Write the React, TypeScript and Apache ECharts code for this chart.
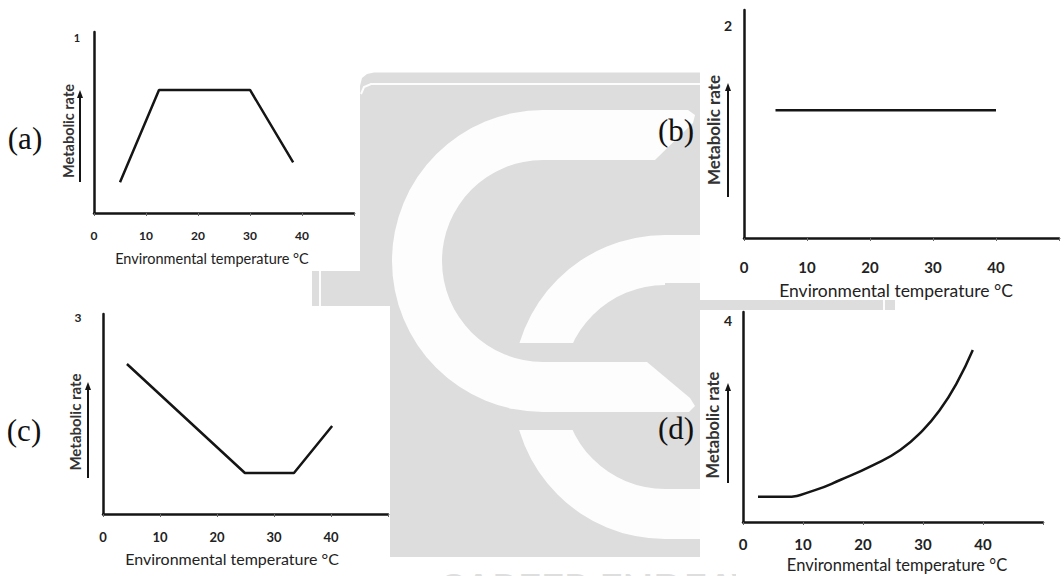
import React, { useEffect, useRef } from "react";
import * as echarts from "echarts";

// ---- data ----
const xTicks = [0, 10, 20, 30, 40];
const panelNumbers = ["1", "2", "3", "4"];
const panelLetters = ["(a)", "(b)", "(c)", "(d)"];
const yAxisLabel = "Metabolic rate";
const xAxisLabel = "Environmental temperature °C";
const watermarkText = "CAREER ENDEAVOUR";

const tempA = [5, 12.5, 30, 38.3];
const rateA = [1.7, 6.8, 6.8, 2.8];
const tempB = [5, 40];
const rateB = [5.6, 5.6];
const tempC = [4.2, 24.9, 33.5, 40.2];
const rateC = [7.5, 2.05, 2.05, 4.4];
const tempD = [2.5, 7, 12, 16.2, 21.7, 26.2, 30, 32.8, 35.6, 38.3];
const rateD = [1.2, 1.2, 1.52, 2.0, 2.71, 3.43, 4.38, 5.33, 6.6, 8.19];

const seriesTemps = [tempA, tempB, tempC, tempD];
const seriesRates = [rateA, rateB, rateC, rateD];
const smoothFlags = [false, false, false, true];

// ---- layout ----
const panels = [
  { left: 94, top: 32, width: 260, height: 181, tickFont: 12, nameFont: 14.5, labelMargin: 16, nameX: 212, nameY: 258, numX: 77, numY: 37, arrowX: 80, arrowTop: 90, arrowBottom: 182, ylabX: 68, ylabY: 131, ylabFont: 14.5, letterX: 25, letterY: 138 },
  { left: 744, top: 10, width: 326, height: 228, tickFont: 15, nameFont: 17.5, labelMargin: 21, nameX: 896, nameY: 290, numX: 728, numY: 25, arrowX: 728, arrowTop: 83, arrowBottom: 197, ylabX: 713, ylabY: 130, ylabFont: 17, letterX: 676, letterY: 130 },
  { left: 103, top: 314, width: 285, height: 200, tickFont: 13, nameFont: 16, labelMargin: 16, nameX: 232, nameY: 558, numX: 78, numY: 317, arrowX: 88, arrowTop: 382, arrowBottom: 478, ylabX: 75, ylabY: 422, ylabFont: 15, letterX: 24, letterY: 430 },
  { left: 743, top: 312, width: 300, height: 210, tickFont: 15, nameFont: 16.5, labelMargin: 14, nameX: 897, nameY: 565, numX: 728, numY: 320, arrowX: 728, arrowTop: 383, arrowBottom: 483, ylabX: 713, ylabY: 425, ylabFont: 16.5, letterX: 676, letterY: 428 },
];

const INK = "#151515";
const GRAY = "#dcdddc";
const WHITE = "#fdfdfd";
const SANS = "Lato, 'Open Sans', sans-serif";
const SERIF = "'Liberation Serif', 'DejaVu Serif', serif";

function buildWatermark(): any[] {
  const els: any[] = [];
  const Z = -10;
  // main gray body
  els.push({
    type: "polygon", z: Z,
    shape: { points: [[360, 86], [362, 78], [367, 74], [374, 72.5], [700, 72.5], [700, 557], [390, 557], [390, 306], [312, 306], [312, 271], [360, 271]] },
    style: { fill: GRAY },
  });
  // strip below panel b
  els.push({ type: "rect", z: Z, shape: { x: 700, y: 300, width: 195, height: 10 }, style: { fill: GRAY } });
  els.push({ type: "line", z: Z, shape: { x1: 884, y1: 300, x2: 884, y2: 310 }, style: { stroke: WHITE, lineWidth: 2 } });
  // thin white lines
  els.push({ type: "polyline", z: Z, shape: { points: [[361, 94], [364, 87], [371, 84], [700, 84]] }, style: { stroke: WHITE, lineWidth: 2, fill: null } });
  els.push({ type: "line", z: Z, shape: { x1: 320, y1: 271, x2: 320, y2: 306 }, style: { stroke: WHITE, lineWidth: 2 } });
  // small C
  els.push({ type: "sector", z: Z, shape: { cx: 665, cy: 387, r: 152, r0: 102, startAngle: Math.PI / 2, endAngle: (3 * Math.PI) / 2, clockwise: true }, style: { fill: WHITE } });
  els.push({ type: "rect", z: Z, shape: { x: 664, y: 235, width: 36, height: 48 }, style: { fill: WHITE } });
  els.push({ type: "rect", z: Z, shape: { x: 664, y: 489, width: 36, height: 50 }, style: { fill: WHITE } });
  // gap around big C's lower arm
  els.push({ type: "rect", z: Z, shape: { x: 505, y: 343, width: 195, height: 87 }, style: { fill: GRAY } });
  // big C
  els.push({ type: "sector", z: Z, shape: { cx: 543, cy: 261, r: 151, r0: 101, startAngle: Math.PI / 2, endAngle: (3 * Math.PI) / 2, clockwise: true }, style: { fill: WHITE } });
  els.push({ type: "polygon", z: Z, shape: { points: [[542, 110], [688, 110], [695, 115], [693, 123], [655, 160], [542, 160]] }, style: { fill: WHITE } });
  els.push({ type: "polygon", z: Z, shape: { points: [[542, 362], [647, 362], [690, 398], [695, 406], [689, 412], [542, 412]] }, style: { fill: WHITE } });
  // watermark words at the bottom edge
  els.push({ type: "text", z: Z, x: 438, y: 568, style: { text: watermarkText, font: `bold 40px ${SANS}`, fill: "#dedede", align: "left", verticalAlign: "top" } });
  els.push({ type: "rect", z: Z, shape: { x: 736, y: 557, width: 330, height: 20 }, style: { fill: "#ffffff" } });
  return els;
}

function buildPanelGraphics(): any[] {
  const els: any[] = [];
  panels.forEach((p, i) => {
    els.push({ type: "text", z: 20, x: p.letterX, y: p.letterY, style: { text: panelLetters[i], font: `31px ${SERIF}`, fill: "#111", align: "center", verticalAlign: "middle" } });
    els.push({ type: "text", z: 20, x: p.numX, y: p.numY, style: { text: panelNumbers[i], font: `bold ${p.tickFont - 1}px ${SANS}`, fill: "#222", align: "center", verticalAlign: "middle" } });
    els.push({ type: "text", z: 20, x: p.ylabX, y: p.ylabY, rotation: Math.PI / 2, style: { text: yAxisLabel, font: `bold ${p.ylabFont}px ${SANS}`, fill: "#333", align: "center", verticalAlign: "middle" } });
    els.push({ type: "line", z: 20, shape: { x1: p.arrowX, y1: p.arrowBottom, x2: p.arrowX, y2: p.arrowTop + 5 }, style: { stroke: INK, lineWidth: 2 } });
    els.push({ type: "polygon", z: 20, shape: { points: [[p.arrowX - 3, p.arrowTop + 8], [p.arrowX + 3, p.arrowTop + 8], [p.arrowX, p.arrowTop]] }, style: { fill: INK } });
    els.push({ type: "text", z: 20, x: p.nameX, y: p.nameY, style: { text: xAxisLabel, font: `${p.nameFont}px ${SANS}`, fill: "#222", align: "center", verticalAlign: "middle" } });
  });
  return els;
}

export default function App() {
  const ref = useRef<HTMLDivElement>(null);
  useEffect(() => {
    document.body.style.margin = "0";
    if (!ref.current) return;
    const chart = echarts.init(ref.current, undefined, { renderer: "svg" });
    const option: any = {
      animation: false,
      backgroundColor: "#ffffff",
      grid: panels.map((p) => ({ left: p.left, top: p.top, width: p.width, height: p.height, containLabel: false })),
      xAxis: panels.map((p, i) => ({
        type: "value", gridIndex: i, min: 0, max: 50, interval: 10,
        axisLine: { show: true, onZero: true, lineStyle: { color: INK, width: 2.5 } },
        axisTick: { show: true, length: 3, lineStyle: { color: "#666", width: 1 } },
        splitLine: { show: false },
        axisLabel: {
          show: true, margin: p.labelMargin, color: "#222", fontFamily: SANS, fontWeight: "bold", fontSize: p.tickFont,
          formatter: (v: number) => (xTicks.indexOf(v) >= 0 ? String(v) : ""),
        },
      })),
      yAxis: panels.map((p, i) => ({
        type: "value", gridIndex: i, min: 0, max: 10,
        axisLine: { show: true, lineStyle: { color: INK, width: 2.5 } },
        axisTick: { show: false },
        axisLabel: { show: false },
        splitLine: { show: false },
      })),
      series: panels.map((p, i) => ({
        type: "line", xAxisIndex: i, yAxisIndex: i, z: 5,
        showSymbol: false, symbol: "none",
        smooth: smoothFlags[i] ? 0.5 : false,
        lineStyle: { color: INK, width: 2.5 },
        data: seriesTemps[i].map((t, k) => [t, seriesRates[i][k]]),
      })),
      graphic: [...buildWatermark(), ...buildPanelGraphics()],
    };
    chart.setOption(option);
    return () => chart.dispose();
  }, []);
  return <div ref={ref} style={{ width: 1062, height: 576, background: "#fff" }} />;
}
